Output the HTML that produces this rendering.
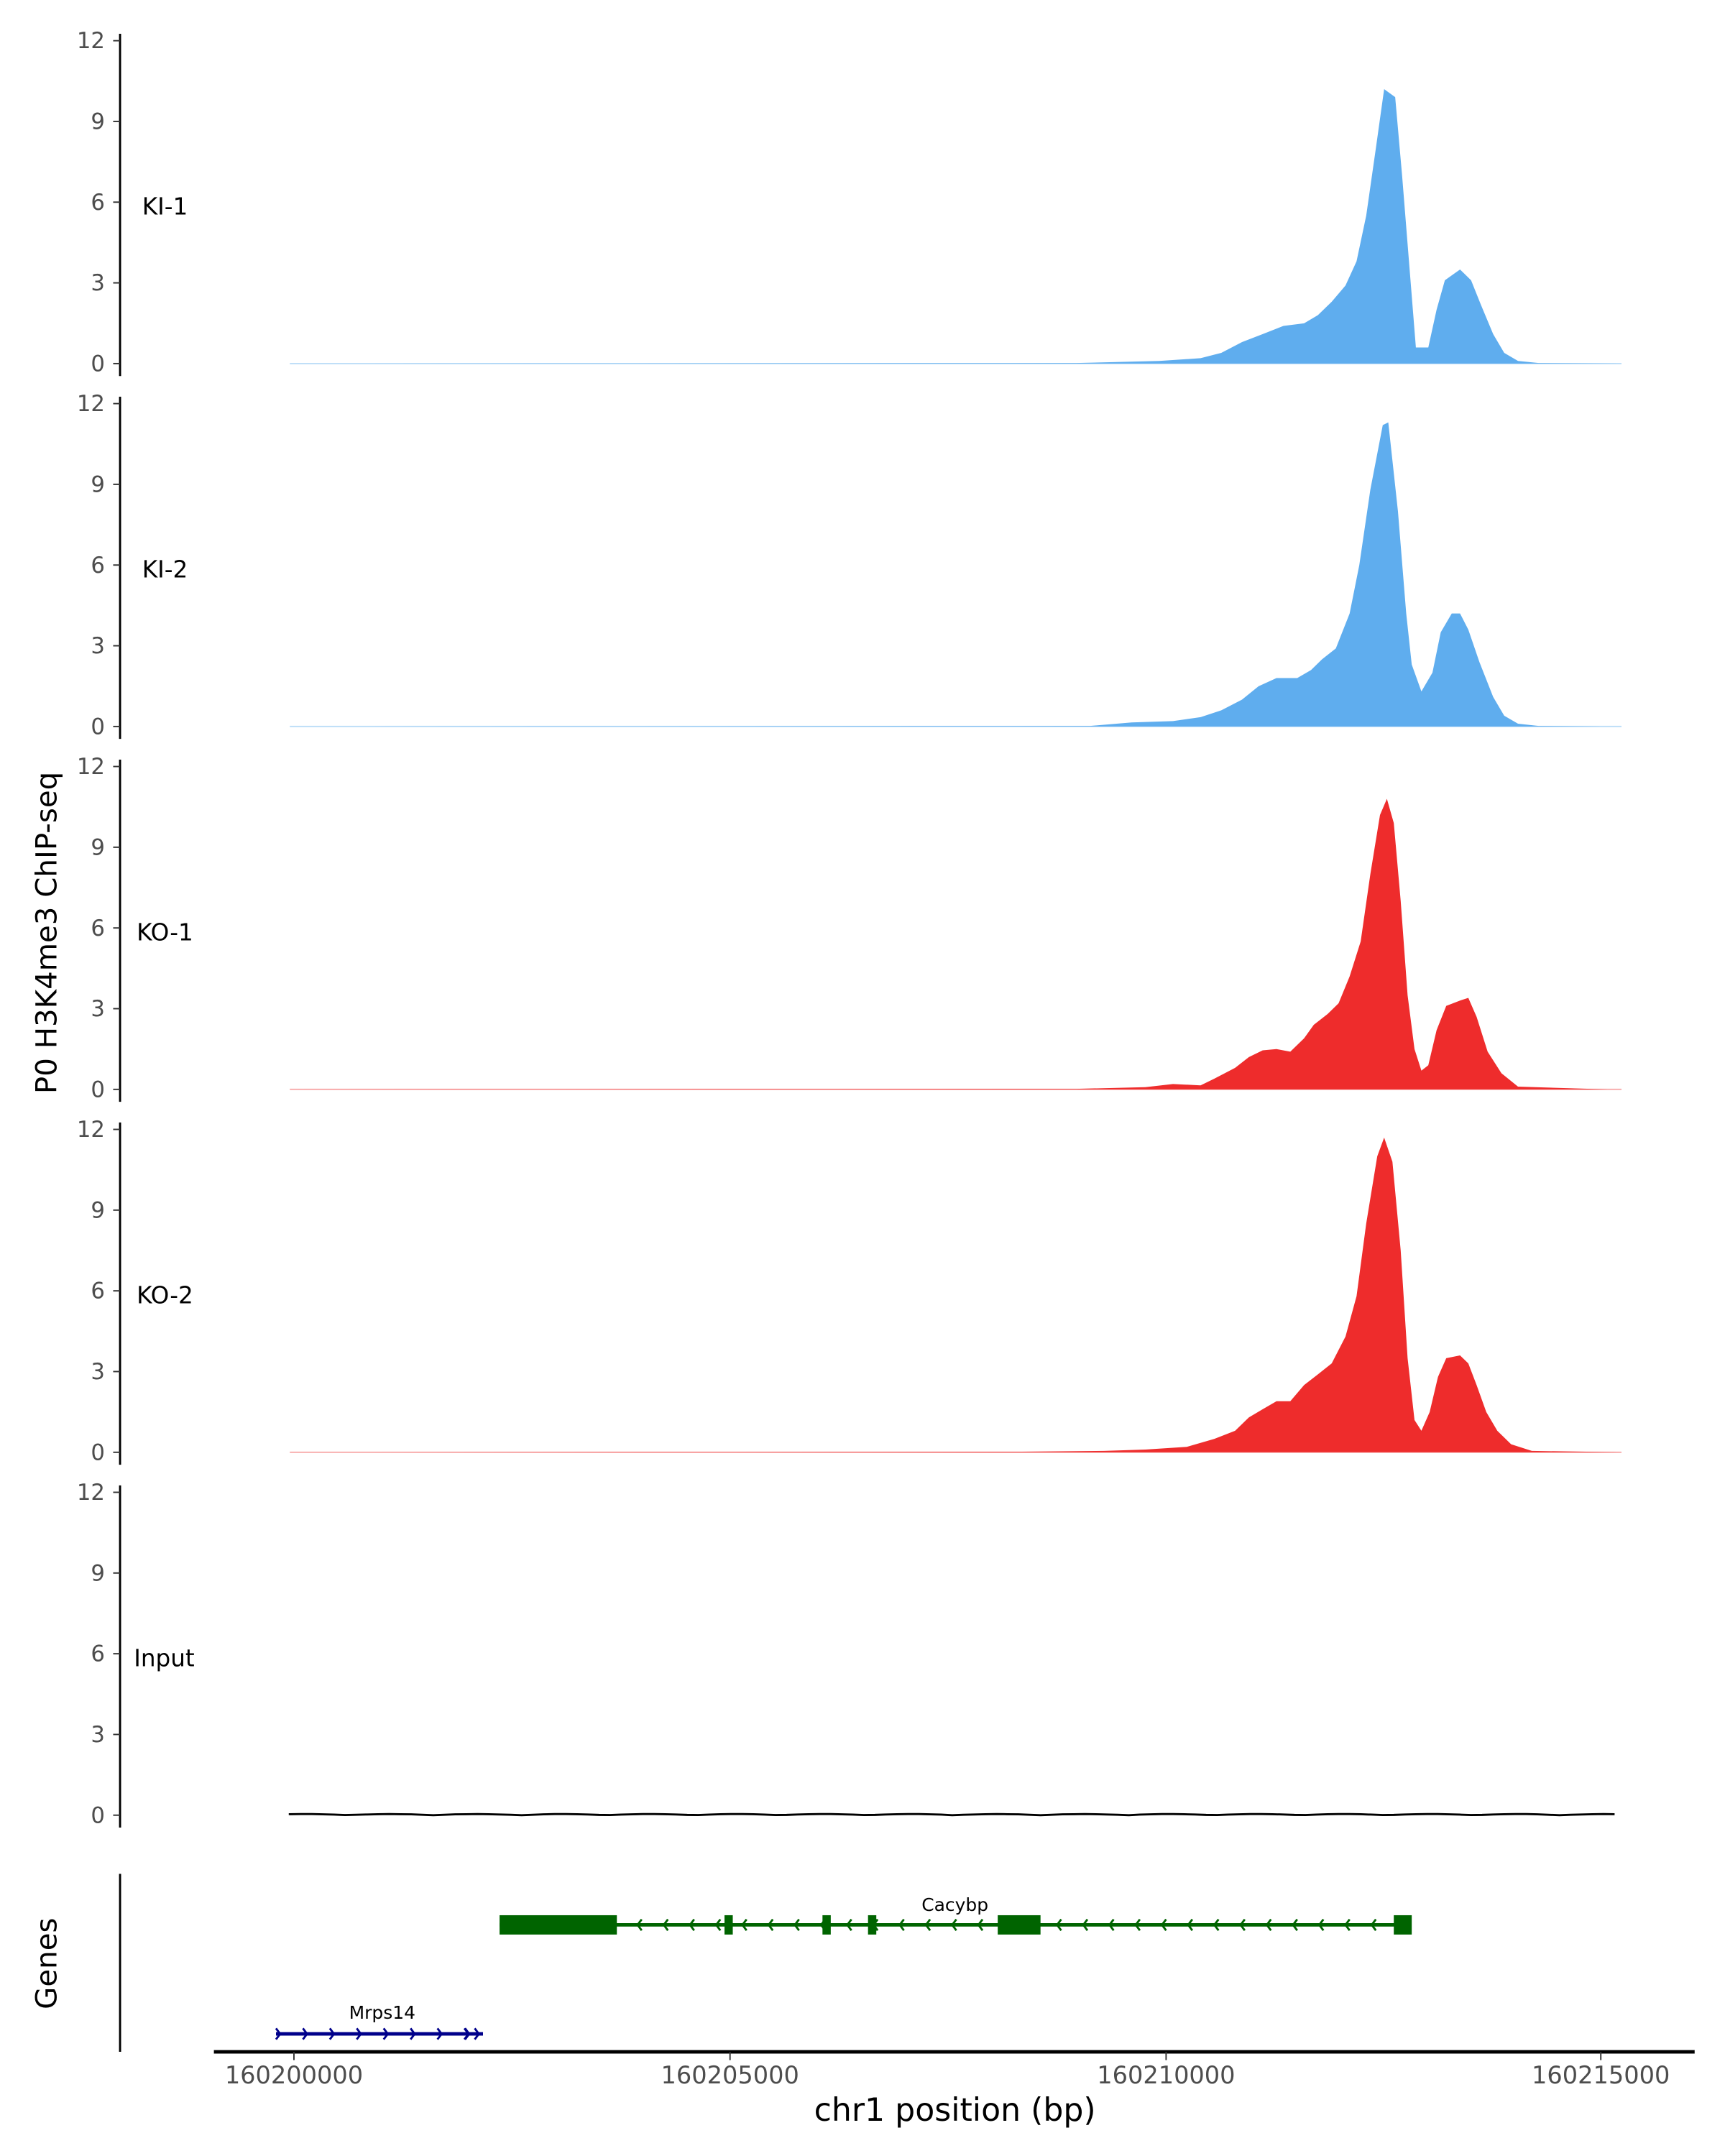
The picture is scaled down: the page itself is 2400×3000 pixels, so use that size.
<!DOCTYPE html>
<html><head><meta charset="utf-8"><style>html,body{margin:0;padding:0;background:#fff}svg{display:block}</style></head>
<body>
<svg id="s" width="2400" height="3000" viewBox="0 0 1250 1562.5" xmlns="http://www.w3.org/2000/svg" font-family="'DejaVu Sans','Liberation Sans',sans-serif">
<rect width="1250" height="1562.5" fill="#fff"/>
<g id="panels"></g>
<text transform="translate(41,676) rotate(-90)" text-anchor="middle" font-size="21" fill="#000">P0 H3K4me3 ChIP-seq</text>
<text transform="translate(41,1423) rotate(-90)" text-anchor="middle" font-size="21" fill="#000">Genes</text>
<line x1="87" y1="1358" x2="87" y2="1487" stroke="#000" stroke-width="1.5"/>
<line x1="155" y1="1487" x2="1228" y2="1487" stroke="#000" stroke-width="2.5"/>
<g stroke="#333" stroke-width="1">
<line x1="213" y1="1487" x2="213" y2="1493"/><line x1="529" y1="1487" x2="529" y2="1493"/>
<line x1="845" y1="1487" x2="845" y2="1493"/><line x1="1160" y1="1487" x2="1160" y2="1493"/></g>
<g font-size="17.5" fill="#4d4d4d" text-anchor="middle">
<text x="213" y="1510">160200000</text><text x="529" y="1510">160205000</text>
<text x="845" y="1510">160210000</text><text x="1160" y="1510">160215000</text></g>
<text x="692" y="1537" text-anchor="middle" font-size="23" fill="#000">chr1 position (bp)</text>
<g id="genes"></g>
</svg>
<script>
var NS="http://www.w3.org/2000/svg";
function el(t,a,p,txt){var e=document.createElementNS(NS,t);for(var k in a)e.setAttribute(k,a[k]);if(txt)e.textContent=txt;(p||document.getElementById('panels')).appendChild(e);return e;}
var P=[
 {b:263.5,lab:"KI-1",c:"#5fadee",pts:[[210,0],[780,0.02],[840,0.1],[870,0.2],[885,0.4],[900,0.8],[915,1.1],[930,1.4],[945,1.5],[955,1.8],[965,2.3],[975,2.9],[983,3.8],[990,5.5],[997,8],[1003,10.2],[1011,9.9],[1016,7],[1021,3.8],[1026,0.6],[1035,0.6],[1041,2.0],[1047,3.1],[1058,3.5],[1066,3.1],[1073,2.2],[1082,1.1],[1090,0.4],[1100,0.1],[1115,0.02],[1175,0]]},
 {b:526.5,lab:"KI-2",c:"#5fadee",pts:[[235,0],[790,0.02],[820,0.15],[850,0.2],[870,0.35],[885,0.6],[900,1.0],[912,1.5],[925,1.8],[940,1.8],[950,2.1],[958,2.5],[968,2.9],[978,4.2],[985,6],[993,8.8],[1002,11.2],[1006,11.3],[1013,8],[1019,4.2],[1023,2.3],[1030,1.3],[1038,2.0],[1044,3.5],[1052,4.2],[1058,4.2],[1064,3.6],[1072,2.4],[1082,1.1],[1090,0.4],[1100,0.1],[1115,0.02],[1160,0]]},
 {b:789.5,lab:"KO-1",c:"#ee2c2c",pts:[[210,0],[780,0.02],[830,0.08],[850,0.2],[870,0.15],[880,0.4],[895,0.8],[905,1.2],[915,1.45],[925,1.5],[935,1.4],[945,1.9],[952,2.4],[962,2.8],[970,3.2],[978,4.2],[986,5.5],[993,8],[1000,10.2],[1005,10.8],[1010,9.9],[1015,7],[1020,3.5],[1025,1.5],[1030,0.7],[1035,0.9],[1041,2.2],[1048,3.1],[1058,3.3],[1064,3.4],[1070,2.7],[1078,1.4],[1088,0.6],[1100,0.1],[1165,0]]},
 {b:1052.5,lab:"KO-2",c:"#ee2c2c",pts:[[210,0],[740,0.02],[800,0.05],[830,0.1],[860,0.2],[880,0.5],[895,0.8],[905,1.3],[915,1.6],[925,1.9],[935,1.9],[945,2.5],[955,2.9],[965,3.3],[975,4.3],[983,5.8],[990,8.5],[998,11.0],[1003,11.7],[1009,10.8],[1015,7.5],[1020,3.5],[1025,1.2],[1030,0.8],[1036,1.5],[1042,2.8],[1048,3.5],[1058,3.6],[1064,3.3],[1070,2.5],[1077,1.5],[1085,0.8],[1095,0.3],[1110,0.05],[1175,0]]},
 {b:1315.5,lab:"Input",c:"#000",pts:null}
];
P.forEach(function(p){
 var top=p.b-234;
 el('line',{x1:87,y1:top-5,x2:87,y2:p.b+9,stroke:'#000','stroke-width':1.5});
 for(var v=0;v<=12;v+=3){var y=p.b-v*19.5;
  el('line',{x1:82,y1:y,x2:87,y2:y,stroke:'#333','stroke-width':1});
  el('text',{x:76,y:y+5.5,'text-anchor':'end','font-size':16,fill:'#4d4d4d'},null,String(v));}
 el('text',{x:(p.lab=="Input"?97:p.lab.indexOf('KO')==0?99:103),y:p.b-108,'font-size':17,fill:'#000'},null,p.lab);
 if(p.pts){
  var d="M"+p.pts[0][0]+","+p.b;
  p.pts.forEach(function(q){d+=" L"+q[0]+","+(p.b-q[1]*19.5).toFixed(1);});
  d+=" L"+p.pts[p.pts.length-1][0]+","+p.b+"Z";
  el('path',{d:d,fill:p.c});
  el('line',{x1:210,y1:p.b,x2:1175,y2:p.b,stroke:p.c,'stroke-width':1,opacity:0.4});
 } else {
  var d="M210,"+p.b;for(var x=210;x<=1175;x+=8){d+=" L"+x+","+(p.b-0.8*Math.abs(Math.sin(x*0.05))).toFixed(1);}
  el('path',{d:d,fill:'none',stroke:'#000','stroke-width':1.5});
 }
});
var G=document.getElementById('genes');
el('line',{x1:362,y1:1395,x2:1022,y2:1395,stroke:'#006400','stroke-width':2.5},G);
[[362,447],[525,531],[596,602],[629,635],[723,754],[1010,1023]].forEach(function(e){
 el('rect',{x:e[0],y:1388,width:e[1]-e[0],height:14,fill:'#006400'},G);});
for(var x=462;x<1005;x+=19){el('path',{d:"M"+(x+3)+",1391 L"+x+",1395 L"+(x+3)+",1399",fill:'none',stroke:'#006400','stroke-width':1.5},G);}
el('text',{x:692,y:1385,'text-anchor':'middle','font-size':13,fill:'#000'},G,"Cacybp");
el('line',{x1:200,y1:1474,x2:350,y2:1474,stroke:'#00008b','stroke-width':2.5},G);
for(var x=203;x<350;x+=19.5){el('path',{d:"M"+(x-3)+",1470 L"+x+",1474 L"+(x-3)+",1478",fill:'none',stroke:'#00008b','stroke-width':1.5},G);}
[340,347].forEach(function(x){el('path',{d:"M"+(x-3)+",1470 L"+x+",1474 L"+(x-3)+",1478",fill:'none',stroke:'#00008b','stroke-width':1.5},G);});
el('text',{x:277,y:1463,'text-anchor':'middle','font-size':13,fill:'#000'},G,"Mrps14");
</script>
</body></html>
